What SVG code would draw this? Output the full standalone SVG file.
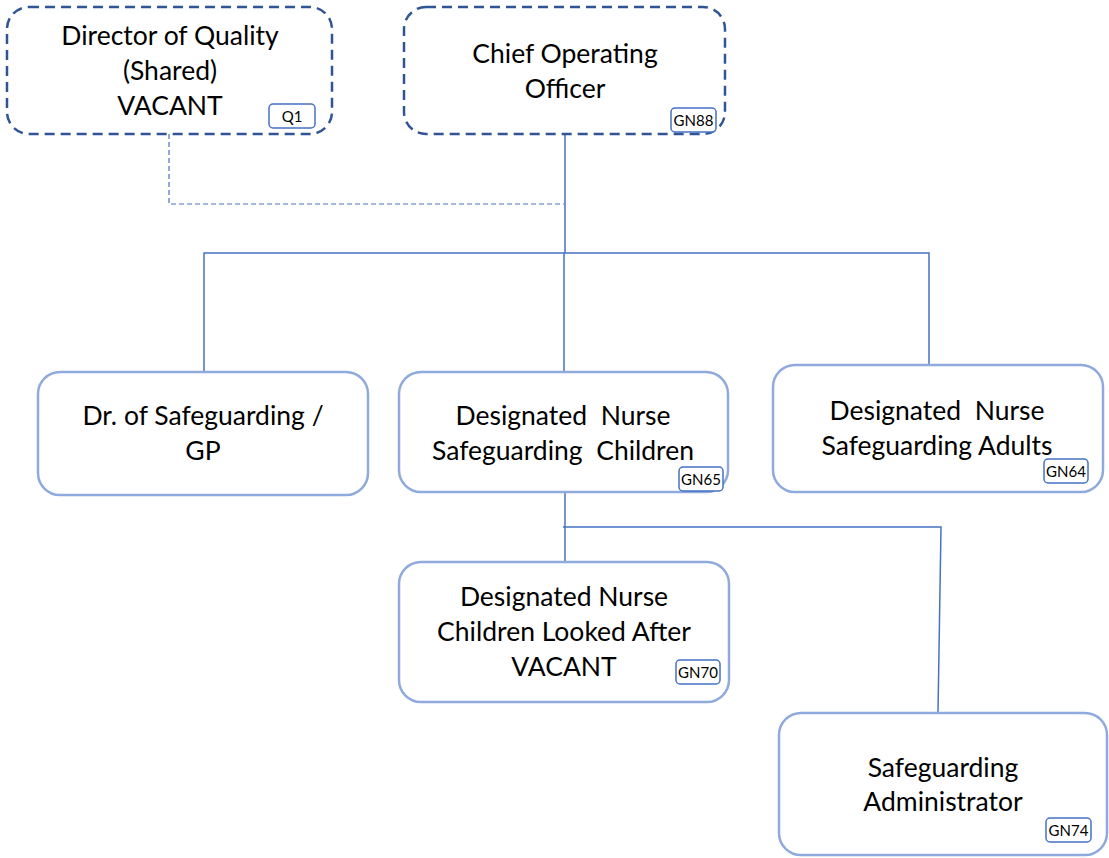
<svg xmlns="http://www.w3.org/2000/svg" width="1109" height="858" viewBox="0 0 1109 858">
<style>
.dash{fill:#fff;stroke:#2F5597;stroke-width:2.5;stroke-dasharray:10 6}
.box{fill:#fff;stroke:#8FAADC;stroke-width:2.5}
.badge{fill:#fff;stroke:#4472C4;stroke-width:1.5}
.t{font-family:Lato,"Open Sans",sans-serif;font-size:26.5px;fill:#000;text-anchor:middle}
.b{font-family:Lato,"Open Sans",sans-serif;font-size:15px;fill:#000;text-anchor:middle}
.c{fill:none;stroke:#4472C4;stroke-width:1.5}
.cd{fill:none;stroke:#4472C4;stroke-width:1.2;stroke-dasharray:5 3}
</style>
<rect width="1109" height="858" fill="#fff"/>
<g id="connectors">
<path class="cd" d="M169 134 V204 H564"/>
<path class="c" d="M565 133 V253 M564 253 V372"/>
<path class="c" d="M204 372 V253 H929 V365"/>
<path class="c" d="M565 492 V562"/>
<path class="c" d="M563 527 H941 L938 712"/>
</g>
<g id="director-quality">
<rect class="dash" x="7" y="7" width="325" height="127" rx="22"/>
<text class="t" x="170" y="45">Director of Quality</text>
<text class="t" x="170" y="80">(Shared)</text>
<text class="t" x="170" y="115">VACANT</text>
<rect class="badge" x="269" y="104" width="46" height="24" rx="4"/>
<text class="b" x="292" y="121.5">Q1</text>
</g>
<g id="coo">
<rect class="dash" x="404" y="7" width="321" height="127" rx="22"/>
<text class="t" x="565" y="63">Chief Operating</text>
<text class="t" x="565" y="98">Officer</text>
<rect class="badge" x="671" y="108" width="45" height="24" rx="4"/>
<text class="b" x="693.5" y="125.5">GN88</text>
</g>
<g id="dr-safeguarding">
<rect class="box" x="38" y="372" width="330" height="123" rx="22"/>
<text class="t" x="203" y="425">Dr. of Safeguarding /</text>
<text class="t" x="203" y="460">GP</text>
</g>
<g id="dn-children">
<rect class="box" x="399" y="372" width="329" height="120" rx="22"/>
<text class="t" x="563" y="425" xml:space="preserve">Designated  Nurse</text>
<text class="t" x="563" y="460" xml:space="preserve">Safeguarding  Children</text>
<rect class="badge" x="679" y="467" width="44" height="24" rx="4"/>
<text class="b" x="701" y="484.5">GN65</text>
</g>
<g id="dn-adults">
<rect class="box" x="773" y="365" width="330" height="127" rx="22"/>
<text class="t" x="937" y="420" xml:space="preserve">Designated  Nurse</text>
<text class="t" x="937" y="455">Safeguarding Adults</text>
<rect class="badge" x="1044" y="459" width="44" height="24" rx="4"/>
<text class="b" x="1066" y="476.5">GN64</text>
</g>
<g id="dn-cla">
<rect class="box" x="399" y="562" width="330" height="140" rx="22"/>
<text class="t" x="564" y="606">Designated Nurse</text>
<text class="t" x="564" y="641">Children Looked After</text>
<text class="t" x="564" y="676">VACANT</text>
<rect class="badge" x="676" y="660" width="44" height="24" rx="4"/>
<text class="b" x="698" y="677.5">GN70</text>
</g>
<g id="sg-admin">
<rect class="box" x="779" y="713" width="328" height="142" rx="22"/>
<text class="t" x="943" y="777">Safeguarding</text>
<text class="t" x="943" y="811">Administrator</text>
<rect class="badge" x="1046" y="818" width="45" height="24" rx="4"/>
<text class="b" x="1068.5" y="835.5">GN74</text>
</g>
</svg>
